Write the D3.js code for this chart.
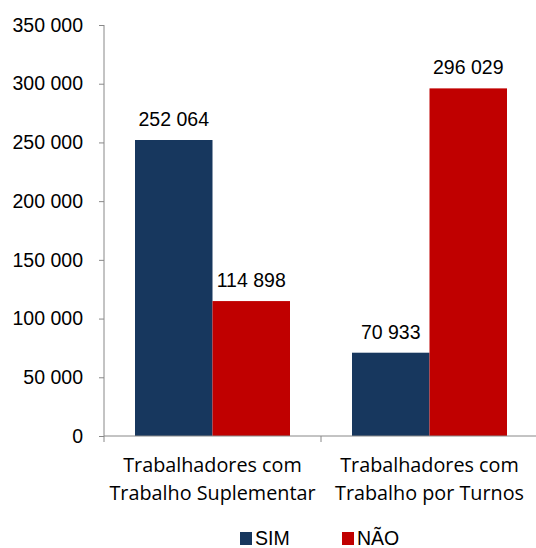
<!DOCTYPE html>
<html>
<head>
<meta charset="utf-8">
<script src="https://cdn.jsdelivr.net/npm/d3@7"></script>
<style>
  body { margin: 0; background: #fff; }
  text { font-family: "Liberation Sans", Arial, sans-serif; fill: #000; }
</style>
</head>
<body>
<svg width="536" height="548"></svg>
<script>
var categories = [["Trabalhadores com", "Trabalho Suplementar"], ["Trabalhadores com", "Trabalho por Turnos"]];
var seriesNames = ["SIM", "NÃO"];
var simValues = [252064, 70933];
var naoValues = [114898, 296029];
var yTicks = [0, 50000, 100000, 150000, 200000, 250000, 300000, 350000];

var svg = d3.select("svg");
var color = d3.scaleOrdinal().domain(seriesNames).range(["#17375E", "#C00000"]);

var mLeft = 104, mRight = 538, mTop = 25, mBottom = 436;

var x = d3.scaleBand().domain([0, 1]).range([mLeft, mRight]).paddingInner(0).paddingOuter(0);
var x1 = d3.scaleBand().domain(seriesNames).range([0, x.bandwidth()]).paddingInner(0).paddingOuter(0.4);
var y = d3.scaleLinear().domain([0, 350000]).range([mBottom, mTop]);

var fmt = function(v) { return d3.format(",")(v).replace(/,/g, " "); };

var data = [];
for (var i = 0; i < categories.length; i++) {
  data.push({ cat: i, key: "SIM", value: simValues[i] });
  data.push({ cat: i, key: "NÃO", value: naoValues[i] });
}

// y axis
var yAxis = svg.append("g")
    .attr("transform", "translate(" + mLeft + ",0)")
    .call(d3.axisLeft(y).tickValues(yTicks).tickSize(5).tickPadding(16).tickFormat(fmt));
yAxis.select(".domain").attr("stroke", "#888").attr("d", "M0," + mTop + "V" + mBottom);
yAxis.selectAll(".tick line").attr("stroke", "#888");
yAxis.selectAll(".tick text").style("font-size", "19.5px").attr("fill", "#000");

// bars
svg.append("g").selectAll("rect")
  .data(data)
  .enter().append("rect")
    .attr("x", function(d) { return x(d.cat) + x1(d.key); })
    .attr("y", function(d) { return y(d.value); })
    .attr("width", x1.bandwidth())
    .attr("height", function(d) { return mBottom - y(d.value); })
    .attr("fill", function(d) { return color(d.key); });

// value labels
svg.append("g").selectAll("text")
  .data(data)
  .enter().append("text")
    .attr("x", function(d) { return x(d.cat) + x1(d.key) + x1.bandwidth() / 2; })
    .attr("y", function(d) { return y(d.value) - 14; })
    .attr("text-anchor", "middle")
    .style("font-size", "19.5px")
    .text(function(d) { return fmt(d.value); });

// x axis
var xg = svg.append("g");
xg.append("line")
    .attr("x1", mLeft).attr("x2", mRight).attr("y1", mBottom).attr("y2", mBottom)
    .attr("stroke", "#888");
xg.selectAll("line.tk")
  .data([0, 1, 2])
  .enter().append("line")
    .attr("class", "tk")
    .attr("x1", function(d) { return mLeft + d * x.bandwidth(); })
    .attr("x2", function(d) { return mLeft + d * x.bandwidth(); })
    .attr("y1", mBottom).attr("y2", mBottom + 6)
    .attr("stroke", "#888");

var catLabels = xg.selectAll("text.cat")
  .data(categories)
  .enter().append("text")
    .attr("class", "cat")
    .attr("text-anchor", "middle")
    .style("font-family", "'Open Sans', sans-serif")
    .style("font-size", "19.8px")
    .attr("fill", "#111");
catLabels.each(function(d, i) {
  var t = d3.select(this);
  d.forEach(function(line, j) {
    t.append("tspan")
      .attr("x", x(i) + x.bandwidth() / 2)
      .attr("y", 472 + j * 28)
      .text(line);
  });
});

// legend
var legendX = [240, 342];
var legend = svg.append("g").selectAll("g")
  .data(seriesNames)
  .enter().append("g")
    .attr("transform", function(d, i) { return "translate(" + legendX[i] + ",532)"; });
legend.append("rect")
    .attr("width", 12).attr("height", 13)
    .attr("fill", function(d) { return color(d); });
legend.append("text")
    .attr("x", 15).attr("y", 13)
    .style("font-size", "19.5px")
    .text(function(d) { return d; });
</script>
</body>
</html>
